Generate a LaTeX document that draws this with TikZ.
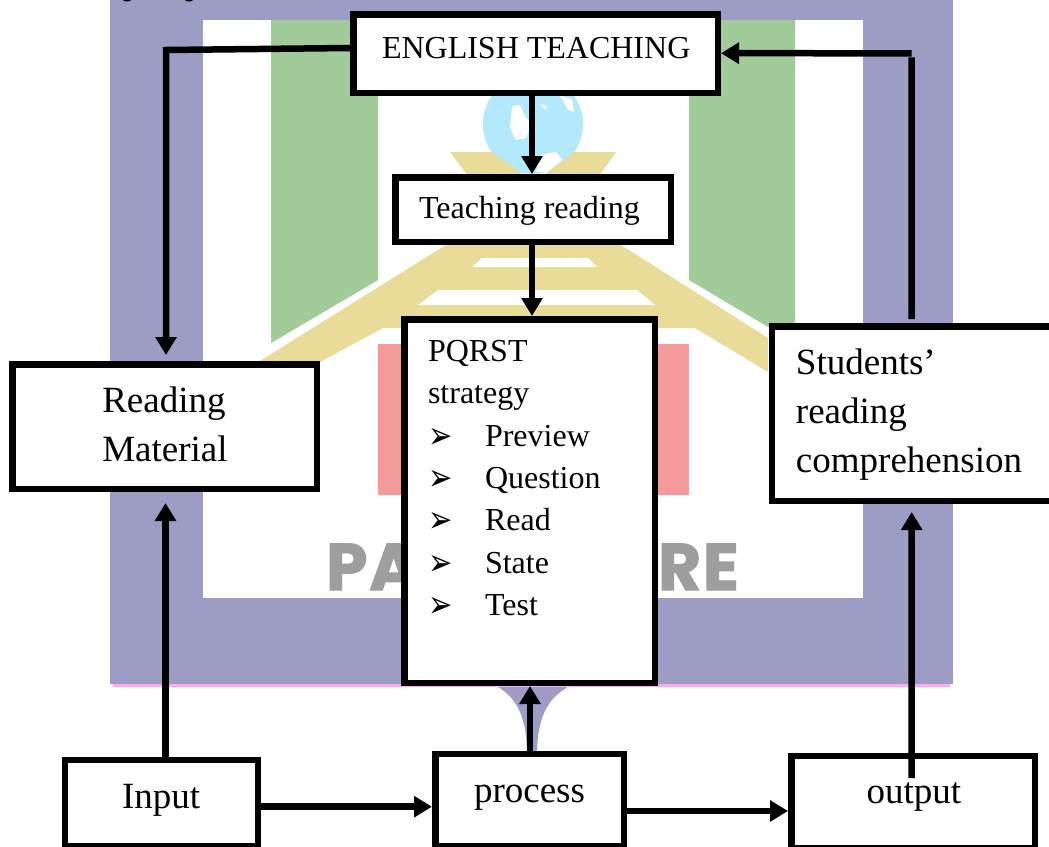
\documentclass[tikz,border=0pt]{standalone}
\usepackage{fontspec}
\usepackage{graphicx}
\setmainfont{Liberation Serif}
\newfontfamily\dejafont{DejaVu Sans}
\newfontfamily\logofont{Poppins}[LetterSpace=3,BoldFeatures={FakeBold=2}]
\usetikzlibrary{arrows.meta,calc}
\definecolor{cPurple}{HTML}{9C9CC5}
\definecolor{cPink}{HTML}{FFA8F5}
\definecolor{cGreen}{HTML}{A2CB9A}
\definecolor{cYellow}{HTML}{E9DB98}
\definecolor{cRed}{HTML}{F49A9A}
\definecolor{cGlobe}{HTML}{B3E9FD}
\definecolor{cGrey}{HTML}{9E9E9E}
% #1 width, #2 above first baseline, #3 below it, #4 left offset, #5 text
\newcommand\cellbox[5]{\raisebox{0pt}[#2pt][#3pt]{\vtop{\hsize=#1pt\parindent=0pt\leftskip=#4pt\rightskip=0pt plus 1fil\relax #5\par}}}
\newcommand\bul{\raisebox{-2pt}{\scalebox{1}[1.3]{\dejafont\fontsize{29}{42.4}\selectfont\char"27A2}}}
\newcommand\itm[1]{\leavevmode\hbox to 57pt{\bul\hfil}#1\par}
\tikzset{
  fb/.style={draw=black,fill=white,line width=6.5pt,inner sep=0pt},
  small/.style={font=\fontsize{32}{42.4}\selectfont},
  big/.style={font=\fontsize{37}{48.8}\selectfont},
  conn/.style={draw=black,line width=6.5pt,-{Triangle[length=18pt,width=20.5pt]}},
  logotext/.style={text=cGrey,inner sep=0pt,font=\logofont\bfseries\fontsize{66}{66}\selectfont}
}
\begin{document}
\begin{tikzpicture}[x=1pt,y=-1pt]
\useasboundingbox (0,0) rectangle (1049,846);
\fill[white] (0,0) rectangle (1049,846);
% logo background
\fill[cPurple] (493,684) .. controls (515,696) and (526,712) .. (527,752) -- (537,752) .. controls (538,712) and (550,696) .. (573,684) -- cycle;
\fill[cPink] (113,683) rectangle (950,686.5);
\fill[cPurple] (110,0) rectangle (953,684);
\fill[white] (203,20) rectangle (863,598);
\fill[cGreen] (271,20) -- (378,20) -- (378,280) -- (271,343) -- cycle;
\fill[cGreen] (689,20) -- (795,20) -- (795,343) -- (689,280) -- cycle;
\fill[cRed] (378,344) rectangle (689,495);
\fill[cGlobe] (533,124) circle (50);
\fill[white] (512,106) -- (520,105) -- (526,118) -- (532,122) -- (526,138) -- (516,140) -- (510,128) -- cycle;
\fill[white] (540,104) -- (547,106) -- (545,110) -- cycle;
\fill[white] (560,96) -- (572,99) -- (574,112) -- (568,110) -- (564,102) -- cycle;
\fill[white] (540,155) -- (556,152) -- (562,160) -- (548,172) -- (536,172) -- cycle;
\fill[cYellow] (450,152) -- (492,152) -- (525,176) -- (468,176) -- cycle;
\fill[cYellow] (574,152) -- (616,152) -- (599,176) -- (543,176) -- cycle;
\fill[cYellow] (260,361) -- (534,190) -- (768,338) -- (768,372) -- (695,328) -- (383,328) -- (320,362) -- cycle;
\fill[white] (472,267) -- (482,258) -- (588,258) -- (597,267) -- cycle;
\fill[white] (418,305) -- (438,290) -- (637,290) -- (655,305) -- cycle;
\fill[black] (127,0) ellipse (4 and 1.5);
\fill[black] (189,0) ellipse (4 and 1.5);
\node[logotext,anchor=base west] (lpa) at (326,590) {PA};
\node[logotext,anchor=base east] (lre) at (739,590) {RE};
% boxes
\node[fb,small] (eng) at (535.5,53.5) {\cellbox{364.5}{44.35}{34.15}{28.75}{ENGLISH TEACHING}};
\node[fb,small] (teach) at (533,209.5) {\cellbox{275.5}{41.35}{23.15}{23.75}{Teaching reading}};
\node[fb,small] (pq) at (529.5,501) {\cellbox{250.5}{42.05}{321.45}{23.75}{PQRST\par strategy\par\itm{Preview}\itm{Question}\itm{Read}\itm{State}\itm{Test}}};
\node[fb,big] (read) at (164.5,426.5) {\cellbox{304.5}{48.05}{76.45}{90}{Reading\par Material}};
\node[fb,big] (stu) at (916.1,413.5) {\cellbox{287.75}{48.6}{125.9}{23.75}{Students’\par reading\par comprehension}};
\node[fb,big] (inp) at (161.5,803) {\cellbox{193}{48.6}{37.4}{57}{Input}};
\node[fb,big] (proc) at (529.5,800) {\cellbox{188.5}{48.05}{43.7}{38.75}{process}};
\node[fb,big] (out) at (913,802) {\cellbox{243.5}{47.05}{44.7}{75.25}{output}};
% connectors
\coordinate (cA) at (166,50);
\coordinate (cB) at (911.7,57.3);
\coordinate (cC) at (911.7,53.3);
\draw[conn] ([yshift=5.5pt]eng.west) -- (cA) -- ([shift={(1.5pt,6pt)}]read.north);
\draw[conn] ([xshift=-3.5pt]eng.south) -- ([xshift=-1pt]teach.north);
\draw[conn] ([xshift=-1pt]teach.south) -- ([xshift=2.5pt]pq.north);
\draw[conn] ([xshift=4pt]inp.north) -- ([shift={(1pt,-11pt)}]read.south);
\draw[conn] ([yshift=-3.7pt]inp.east) -- ([yshift=-6.7pt]proc.west);
\draw[conn] ([xshift=.5pt]proc.north) -- ([xshift=.5pt]pq.south);
\draw[conn] ([yshift=-11pt]proc.east) -- ([yshift=-9pt]out.west);
\draw[conn] ([shift={(-1.3pt,24pt)}]out.center) -- ([shift={(-4.4pt,-8pt)}]stu.south);
\draw[draw=black,line width=6.5pt] ([shift={(-4.4pt,4pt)}]stu.north) -- (cB);
\draw[conn] (cC) -- ([yshift=.3pt]eng.east);
\end{tikzpicture}
\end{document}
